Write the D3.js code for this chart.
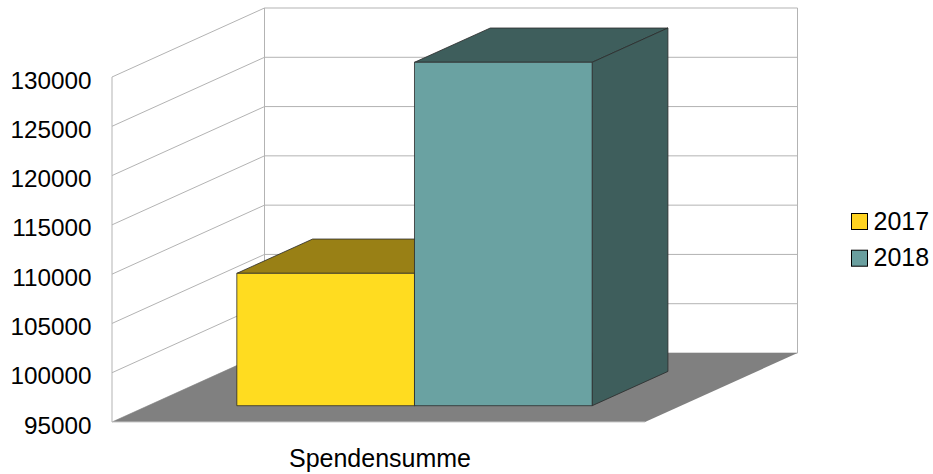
<!DOCTYPE html>
<html>
<head>
<meta charset="utf-8">
<script src="https://cdn.jsdelivr.net/npm/d3@7"></script>
<style>
  body { margin: 0; background: #fff; }
  text { font-family: "Liberation Sans", Arial, sans-serif; }
</style>
</head>
<body>
<script>
// chart values
var categories = ["Spendensumme"];
var years = ["2017", "2018"];
var values = [108430, 129840];
var yTicks = [95000, 100000, 105000, 110000, 115000, 120000, 125000, 130000];

var frontColors = ["#ffdc20", "#6aa2a2"];
var darkColors = ["#998015", "#3e5e5c"];
var legendColors = ["#ffd320", "#6a9f9f"];

var width = 933, height = 474;
// depth of the 3d box (back wall offset)
var depthX = 152.5, depthY = -69;
var zFront = 0.236, zBack = 0.733;

var svg = d3.select("body").append("svg")
    .attr("width", width)
    .attr("height", height);

var y = d3.scaleLinear()
    .domain([95000, 130000])
    .range([422, 77]);

var x0 = d3.scaleBand()
    .domain(categories)
    .range([112, 645])
    .padding(0);

var x1 = d3.scaleBand()
    .domain(years)
    .range([x0.bandwidth() / 6, x0.bandwidth() * 5 / 6]);

// project a point (x on front plane, value, depth 0..1) to the screen
function proj(px, v, z) {
    return [px + z * depthX, y(v) + z * depthY];
}

var line = d3.line();
var lo = y.domain()[0], hi = y.domain()[1];
var xl = x0.range()[0], xr = x0.range()[1];

// walls
var walls = svg.append("g");
walls.append("path")
    .attr("d", line([proj(xl, lo, 0), proj(xl, hi, 0), proj(xl, hi, 1), proj(xl, lo, 1)]) + "Z")
    .attr("fill", "#fff");
walls.append("path")
    .attr("d", line([proj(xl, lo, 1), proj(xl, hi, 1), proj(xr, hi, 1), proj(xr, lo, 1)]) + "Z")
    .attr("fill", "#fff");

// gridlines on left and back wall
yTicks.forEach(function(t) {
    walls.append("path")
        .attr("d", line([proj(xl, t, 0), proj(xl, t, 1), proj(xr, t, 1)]))
        .attr("fill", "none")
        .attr("stroke", "#b3b3b3")
        .attr("stroke-width", 1);
});
walls.append("path")
    .attr("d", line([proj(xl, lo, 0), proj(xl, hi, 0)]))
    .attr("stroke", "#b3b3b3");
walls.append("path")
    .attr("d", line([proj(xl, lo, 1), proj(xl, hi, 1)]))
    .attr("stroke", "#b3b3b3");
walls.append("path")
    .attr("d", line([proj(xr, lo, 1), proj(xr, hi, 1)]))
    .attr("stroke", "#b3b3b3");

// floor
svg.append("path")
    .attr("d", line([proj(xl, lo, 0), proj(xr, lo, 0), proj(xr, lo, 1), proj(xl, lo, 1)]) + "Z")
    .attr("fill", "#808080");
svg.append("path")
    .attr("d", line([proj(xl, lo, 0), proj(xr, lo, 0)]))
    .attr("stroke", "#c8c8c8");

// bars
var bars = svg.append("g");
years.forEach(function(yr, i) {
    var bx0 = x0(categories[0]) + x1(yr);
    var bx1 = bx0 + x1.bandwidth();
    var v = values[i];
    var faces = [
        // top
        [proj(bx0, v, zFront), proj(bx1, v, zFront), proj(bx1, v, zBack), proj(bx0, v, zBack)],
        // right side
        [proj(bx1, lo, zFront), proj(bx1, v, zFront), proj(bx1, v, zBack), proj(bx1, lo, zBack)],
        // front
        [proj(bx0, lo, zFront), proj(bx0, v, zFront), proj(bx1, v, zFront), proj(bx1, lo, zFront)]
    ];
    var fills = [darkColors[i], darkColors[i], frontColors[i]];
    faces.forEach(function(f, k) {
        bars.append("path")
            .attr("d", line(f) + "Z")
            .attr("fill", fills[k])
            .attr("stroke", "#2b2b2b")
            .attr("stroke-opacity", 0.8)
            .attr("stroke-width", 1)
            .attr("stroke-linejoin", "round");
    });
});

// y axis labels
svg.append("g").selectAll("text")
    .data(yTicks)
    .enter()
    .append("text")
    .attr("x", 91.5)
    .attr("y", function(d) { return y(d) + 11.5; })
    .attr("text-anchor", "end")
    .style("font-size", "24.3px")
    .attr("fill", "#000")
    .text(function(d) { return d; });

// category label
svg.append("text")
    .attr("x", 380)
    .attr("y", 466.5)
    .attr("text-anchor", "middle")
    .style("font-size", "25px")
    .text(categories[0]);

// legend
var legend = svg.append("g");
years.forEach(function(yr, i) {
    var ly = 213.5 + i * 36.7;
    legend.append("rect")
        .attr("x", 851.5)
        .attr("y", ly)
        .attr("width", 16)
        .attr("height", 16)
        .attr("fill", legendColors[i])
        .attr("stroke", "#000")
        .attr("stroke-width", 1);
    legend.append("text")
        .attr("x", 873.5)
        .attr("y", ly + 16)
        .style("font-size", "25px")
        .text(yr);
});
</script>
</body>
</html>
